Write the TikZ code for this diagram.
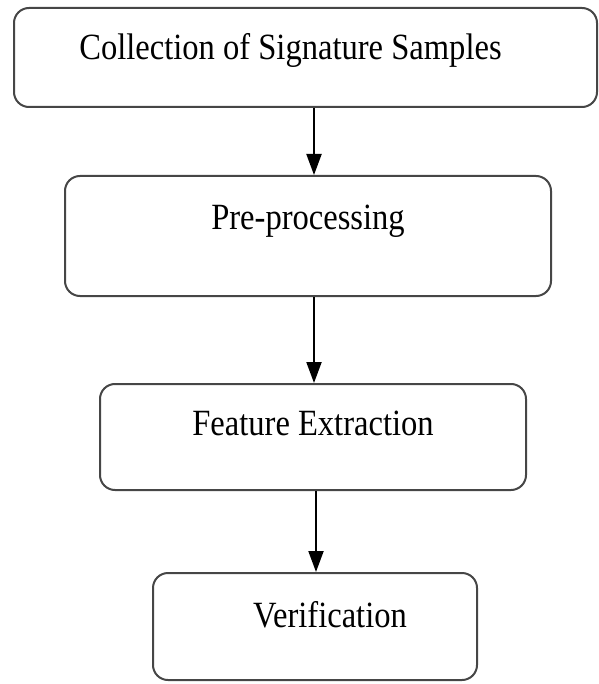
\documentclass[tikz,border=0pt]{standalone}
\usepackage{fontspec}
\setmainfont[FakeStretch=0.88]{Liberation Serif}
\usepackage{xcolor}
\usepackage{tikz}
\usetikzlibrary{arrows.meta,positioning,calc}

\definecolor{boxline}{RGB}{70,70,70}

\tikzset{
    stage/.style={rectangle, rounded corners=15pt, draw=boxline, line width=2pt,
        inner xsep=0pt, inner ysep=0pt,
        font=\fontsize{37}{40}\selectfont},
    flow/.style={-{Triangle[width=15pt,length=21pt]}, line width=2pt, black}
}

\begin{document}
\begin{tikzpicture}[x=1pt, y=-1pt]
    \useasboundingbox (0,0) rectangle (598,684);

    \node (collect) [stage, minimum width=583pt, text height=52pt, text depth=47pt] at (305.5,57.5) {\hspace*{-30pt}Collection of Signature Samples};
    \node (prep) [stage, minimum width=486pt, text height=54pt, text depth=66pt] at (308,236) {Pre-processing};
    \node (feat) [stage, minimum width=426pt, text height=51pt, text depth=55pt] at (313,437) {Feature Extraction};
    \node (verify) [stage, minimum width=324pt, text height=54pt, text depth=53pt] at (315,626.5) {\hspace*{30pt}Verification};

    \draw [flow] ([xshift=8.5pt]collect.south) -- ([xshift=6pt]prep.north);
    \draw [flow] ([xshift=6pt]prep.south) -- ([xshift=1pt]feat.north);
    \draw [flow] ([xshift=3pt]feat.south) -- ([xshift=1pt]verify.north);
\end{tikzpicture}
\end{document}
